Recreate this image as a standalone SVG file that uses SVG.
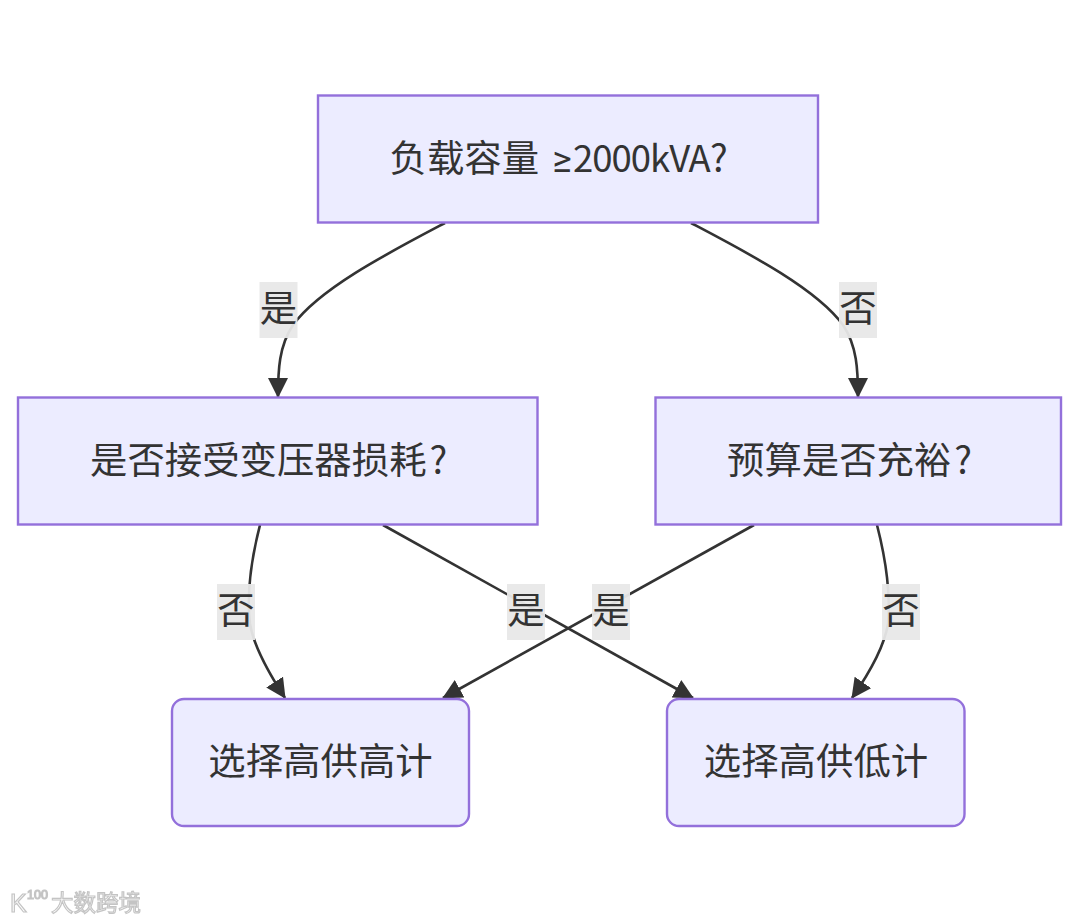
<svg xmlns="http://www.w3.org/2000/svg" width="1080" height="922" viewBox="0 0 1080 922">
<style>
.n{fill:#ececff;stroke:#9370db;stroke-width:2.4}
.t{font-family:"Noto Sans CJK SC",sans-serif;font-size:37.4px;fill:#333;text-anchor:middle}
.s{text-anchor:start}
.e{fill:none;stroke:#333;stroke-width:2.6}
.lb{fill:#e8e8e8;opacity:.95}
.w{font-family:"Liberation Sans",sans-serif;fill:#fff;stroke:#c4c4c4;stroke-width:1.2}
</style>
<defs><marker id="a" markerUnits="userSpaceOnUse" markerWidth="20" markerHeight="20" refX="19" refY="10" orient="auto"><path d="M0 0L20 10L0 20z" fill="#333"/></marker>
<filter id="s" x="-10%" y="-30%" width="120%" height="160%"><feGaussianBlur stdDeviation=".6"/></filter></defs>
<rect width="1080" height="922" fill="#fff"/>
<g id="connectors">
<path class="e" marker-end="url(#a)" d="M445 223C390 252 320 288 293 325C279 346 278 370 278 397"/>
<path class="e" marker-end="url(#a)" d="M691 223C746 252 816 288 843 325C857 346 858 370 858 397"/>
<path class="e" marker-end="url(#a)" d="M260 525C252 556 246 590 250 624C254 648 270 675 285 698"/>
<path class="e" marker-end="url(#a)" d="M383 525L693 698"/>
<path class="e" marker-end="url(#a)" d="M754 525L443 698"/>
<path class="e" marker-end="url(#a)" d="M877 525C885 556 891 590 888 624C884 648 868 675 852 698"/>
</g>
<g id="edge-labels">
<g id="l1"><rect class="lb" x="259.500" y="282" width="38" height="56"/><text class="t" x="278.500" y="322">是</text></g>
<g id="l2"><rect class="lb" x="839" y="282" width="38" height="56"/><text class="t" x="858" y="322">否</text></g>
<g id="l3"><rect class="lb" x="217" y="584" width="38" height="56"/><text class="t" x="236" y="624">否</text></g>
<g id="l4"><rect class="lb" x="507" y="584" width="38" height="56"/><text class="t" x="526" y="624">是</text></g>
<g id="l5"><rect class="lb" x="592" y="584" width="38" height="56"/><text class="t" x="611" y="624">是</text></g>
<g id="l6"><rect class="lb" x="882" y="584" width="38" height="56"/><text class="t" x="901" y="624">否</text></g>
</g>
<g id="A"><rect class="n" x="318" y="95.500" width="500" height="127"/><text class="t s" x="389.500" y="172">负载容量<tspan x="552" style="font-family:Roboto,sans-serif">≥</tspan><tspan x="573" style="font-size:36.5px;letter-spacing:-1px">2000kVA</tspan><tspan x="710">?</tspan></text></g>
<g id="B"><rect class="n" x="18" y="397.500" width="519.500" height="127"/><text class="t s" x="90" y="474">是否接受变压器损耗<tspan dx="3">?</tspan></text></g>
<g id="C"><rect class="n" x="655.500" y="397.500" width="405.500" height="127"/><text class="t s" x="727" y="474">预算是否充裕<tspan dx="3">?</tspan></text></g>
<g id="D"><rect class="n" x="172" y="699" width="297" height="127" rx="12"/><text class="t" x="320.500" y="775">选择高供高计</text></g>
<g id="E"><rect class="n" x="667" y="699" width="297.500" height="127" rx="12"/><text class="t" x="816" y="775">选择高供低计</text></g>
<g id="watermark" filter="url(#s)">
<text class="w" x="51" y="911" font-size="22.500" style="font-family:'Noto Sans CJK SC',sans-serif">大数跨境</text>
<text class="w" x="10" y="912" font-size="25">K</text>
<text class="w" x="27" y="899" font-size="12.500" stroke-width=".8">100</text>
</g>
</svg>
